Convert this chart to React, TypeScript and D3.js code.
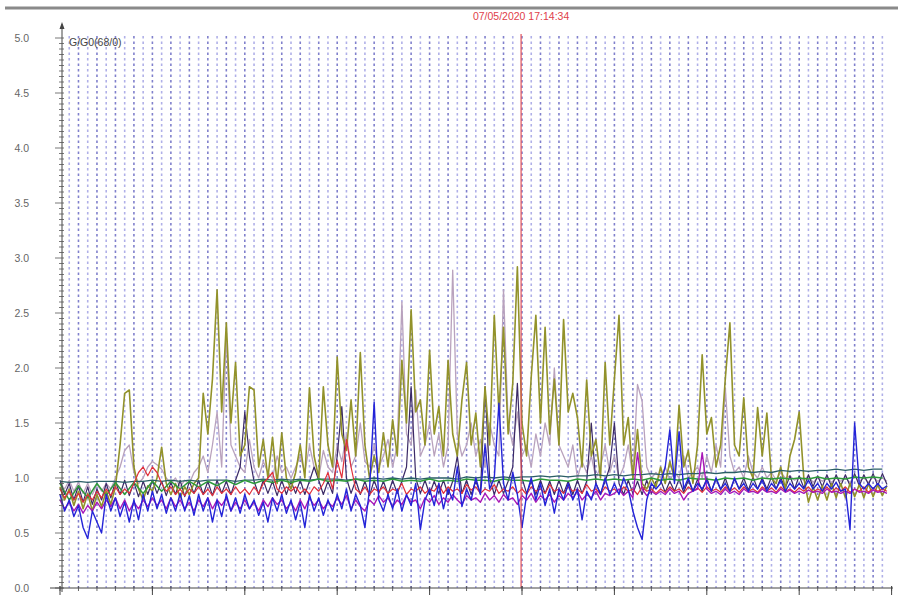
import React from "react";
import * as d3 from "d3";

// ---- data ----
const yTicks = [0, 0.5, 1, 1.5, 2, 2.5, 3, 3.5, 4, 4.5, 5];
const yLabels = ["0.0", "0.5", "1.0", "1.5", "2.0", "2.5", "3.0", "3.5", "4.0", "4.5", "5.0"];
const cursorT = 49.9;
const cursorLabel = "07/05/2020 17:14:34";
const seriesLabel = "G/G0(68/0)";

// half-step series (t = i * 0.5)
const olive = [
  0.92,0.8,0.9,0.75,0.88,0.72,0.86,0.7,0.85,0.74,
  0.88,0.76,0.92,1.3,1.77,1.8,1.1,0.9,0.8,0.93,
  0.88,1.0,1.28,0.95,0.85,0.95,0.82,0.92,0.85,0.95,
  1.0,1.77,1.4,1.9,2.71,1.6,2.41,1.5,2.05,1.2,
  1.3,1.83,1.8,1.1,1.35,1.0,1.37,0.95,1.41,1.0,
  0.9,1.05,1.3,1.0,1.82,1.2,1.0,1.83,1.3,1.1,
  2.1,1.4,1.25,1.71,1.2,2.14,1.3,1.0,1.2,1.05,
  1.41,1.1,1.53,1.2,2.07,1.5,2.53,1.6,1.71,1.3,
  2.16,1.4,1.65,1.2,2.07,1.4,1.2,1.71,2.05,1.3,
  1.59,1.1,1.83,1.3,2.48,1.6,2.37,1.4,1.86,2.92,
  1.5,1.2,1.92,2.48,1.5,2.37,1.4,1.9,1.3,2.44,
  1.6,1.77,1.55,1.1,1.89,1.2,1.35,1.0,2.05,1.3,
  1.9,2.48,1.3,1.55,1.0,1.44,0.95,0.9,1.0,0.92,
  1.1,0.95,1.15,1.0,1.66,1.1,1.25,0.95,1.3,2.12,
  1.4,1.55,1.1,1.3,1.9,2.41,1.3,1.2,1.73,1.1,
  1.0,1.64,1.2,1.59,1.0,0.95,1.1,0.9,1.2,1.35,
  1.6,1.0,0.78,0.92,0.8,0.93,0.8,0.95,0.82,0.95,
  0.82,0.95,0.83,0.94,0.82,0.95,0.83,0.94,0.84,0.93,
];
const lavender = [
  0.95,0.9,0.98,0.88,0.96,0.86,0.95,0.85,0.94,0.88,
  0.95,0.9,1.0,1.1,1.25,1.3,1.05,0.95,1.0,1.1,
  1.15,1.12,1.08,1.0,0.95,1.0,0.92,0.98,0.95,1.05,
  1.1,1.2,1.05,1.3,1.6,1.1,2.3,1.3,1.2,1.1,
  1.05,1.35,1.1,1.0,1.15,1.05,1.0,1.2,1.05,1.1,
  1.0,1.1,1.2,1.05,1.3,1.1,1.0,1.25,1.1,1.05,
  1.3,1.15,1.4,1.1,1.2,1.5,1.15,1.1,1.3,1.1,
  1.2,1.35,1.1,1.3,2.6,1.4,1.3,1.8,1.2,1.3,
  1.5,1.2,1.4,1.1,1.3,2.89,1.4,1.2,1.3,1.5,
  1.2,1.35,1.1,1.5,1.3,1.2,2.71,1.5,1.3,1.6,
  1.2,1.3,1.1,1.4,1.2,1.5,1.3,2.0,1.3,1.2,
  1.1,1.3,1.0,1.15,1.05,1.2,1.0,1.1,1.3,1.05,
  1.2,1.0,1.1,1.3,1.0,1.85,1.7,1.1,1.0,1.05,
  1.0,1.1,0.98,1.05,1.0,1.2,1.0,1.05,1.1,1.0,
  1.2,1.05,1.3,1.1,1.82,1.2,1.05,1.1,1.0,1.2,
  1.05,1.0,1.1,1.0,1.05,0.98,1.05,1.0,1.02,0.98,
  1.0,0.98,1.02,0.96,1.0,0.97,1.01,0.96,1.0,0.97,
  1.0,0.96,1.02,0.97,1.0,0.96,1.01,0.97,1.0,0.97,
];
const navy = [
  0.98,0.85,0.95,0.8,0.93,0.78,0.92,0.76,0.9,0.8,
  0.95,0.82,0.97,0.85,0.98,0.84,0.96,0.83,0.97,0.85,
  0.98,0.86,0.97,0.84,0.96,0.85,0.98,0.83,0.97,0.86,
  0.98,0.85,0.97,0.84,0.98,0.86,0.97,0.85,0.98,1.1,
  1.6,1.2,0.97,0.85,0.98,0.86,0.97,0.84,0.98,0.85,
  0.97,0.86,0.98,0.85,0.97,1.1,0.98,0.85,0.97,0.86,
  1.2,1.65,1.0,0.86,0.98,0.85,0.97,0.84,0.98,0.86,
  0.97,0.85,0.98,0.86,0.97,1.1,1.83,1.0,0.86,0.98,
  0.85,0.97,0.86,0.98,0.85,0.97,1.2,0.86,0.98,0.85,
  0.97,0.86,1.83,1.0,0.85,0.98,0.86,0.97,1.1,1.86,
  1.0,0.86,0.97,0.85,0.98,0.86,0.97,0.85,0.98,0.86,
  0.97,0.85,0.98,0.86,0.97,1.5,0.95,0.86,0.97,1.1,
  1.5,0.95,0.85,0.98,0.86,0.97,0.85,0.98,0.86,0.97,
  0.98,0.87,0.97,0.88,0.99,0.87,0.98,0.88,0.99,0.88,
  1.0,0.88,0.99,0.89,1.0,0.88,0.99,0.9,1.0,0.89,
  1.01,0.9,1.0,0.9,1.01,0.9,1.0,0.91,1.02,0.9,
  1.02,0.91,1.03,0.92,1.02,0.92,1.03,0.92,1.03,0.93,
  1.03,0.93,1.04,0.93,1.03,0.94,1.04,0.93,1.04,0.94,
];
const blue = [
  0.85,0.7,0.8,0.65,0.75,0.55,0.45,0.7,0.6,0.5,
  0.85,0.7,0.82,0.65,0.78,0.6,0.8,0.62,0.85,0.7,
  0.88,0.72,0.85,0.68,0.82,0.7,0.86,0.7,0.84,0.66,
  0.85,0.7,0.82,0.6,0.8,0.65,0.85,0.7,0.82,0.68,
  0.85,0.72,0.8,0.66,0.78,0.6,0.82,0.7,0.85,0.68,
  0.8,0.62,0.78,0.55,0.85,0.7,0.82,0.66,0.8,0.7,
  0.85,0.72,0.9,0.7,0.85,0.75,0.55,0.9,1.69,0.8,
  0.7,0.85,0.72,0.9,0.7,0.85,0.75,0.95,0.53,0.8,
  0.9,0.75,0.95,0.72,0.9,0.8,1.1,0.74,0.9,0.8,
  1.0,0.85,1.3,0.9,1.0,1.68,0.95,0.8,1.05,0.85,
  0.55,0.85,1.0,0.8,0.95,0.75,0.9,0.68,0.9,0.8,
  0.95,0.8,0.9,0.62,0.88,0.8,0.95,0.85,1.0,0.85,
  0.95,0.85,1.0,0.9,0.7,0.55,0.44,0.8,0.95,0.9,
  0.95,1.1,1.44,0.95,1.42,0.9,1.0,0.88,0.95,0.9,
  0.98,0.88,1.0,0.9,0.95,0.88,1.0,0.9,0.95,0.88,
  0.95,0.9,0.98,0.88,0.95,0.9,0.98,0.88,0.95,0.9,
  0.95,0.9,0.98,0.9,0.95,0.88,0.95,0.9,0.96,0.88,
  0.9,0.53,1.5,0.95,0.9,0.95,0.9,0.95,0.9,0.93,
];
const magenta = [
  0.8,0.72,0.78,0.7,0.76,0.68,0.75,0.7,0.78,0.72,
  0.8,0.74,0.82,0.72,0.8,0.7,0.78,0.72,0.8,0.74,
  0.82,0.75,0.8,0.72,0.82,0.74,0.8,0.72,0.78,0.7,
  0.8,0.74,0.82,0.72,0.8,0.75,0.82,0.7,0.78,0.72,
  0.8,0.72,0.78,0.7,0.8,0.74,0.82,0.76,0.8,0.72,
  0.78,0.7,0.8,0.72,0.82,0.75,0.8,0.72,0.78,0.74,
  0.82,0.76,0.84,0.72,0.8,0.74,0.7,0.8,0.76,0.84,
  0.78,0.82,0.74,0.8,0.76,0.84,0.78,0.8,0.72,0.82,
  0.78,0.84,0.76,0.82,0.78,0.85,0.8,0.76,0.84,0.8,
  0.82,0.78,0.86,0.8,0.84,0.78,0.85,0.8,0.82,0.76,
  0.84,0.8,0.86,0.78,0.84,0.8,0.85,0.78,0.84,0.8,
  0.86,0.82,0.88,0.8,0.85,0.82,0.88,0.8,0.86,0.84,
  0.86,0.9,0.84,0.88,0.82,1.23,0.9,0.84,0.88,0.85,
  0.88,0.85,0.9,0.86,0.88,0.8,0.86,0.88,0.9,1.23,
  0.9,0.86,0.88,0.85,0.9,0.86,0.88,0.85,0.9,0.87,
  0.88,0.86,0.9,0.87,0.88,0.86,0.9,0.87,0.89,0.86,
  0.88,0.86,0.89,0.87,0.88,0.86,0.9,0.87,0.88,0.86,
  0.88,0.86,0.9,0.87,0.88,0.86,0.89,0.87,0.88,0.86,
];
const red = [
  0.9,0.82,0.88,0.8,0.86,0.78,0.85,0.8,0.88,0.82,
  0.9,0.84,0.92,0.85,0.9,0.86,0.95,1.05,1.1,1.02,
  1.1,1.05,0.95,0.88,0.92,0.85,0.9,0.84,0.9,0.86,
  0.92,0.85,0.9,0.84,0.92,0.86,0.9,0.85,0.92,0.86,
  0.9,0.85,0.92,0.86,0.95,1.0,1.05,0.9,0.86,0.92,
  0.88,0.92,0.86,0.9,0.85,0.92,0.88,0.95,1.05,0.9,
  1.16,1.0,1.35,1.1,0.9,0.86,0.92,0.85,0.9,0.88,
  0.92,0.86,0.9,0.88,0.95,0.85,0.9,0.88,0.92,0.86,
  0.9,0.88,0.94,0.86,0.92,0.88,0.9,0.86,0.94,0.89,
  0.92,0.86,0.9,0.88,0.94,0.86,0.9,0.88,0.92,0.86,
  0.9,0.85,0.92,0.88,0.9,0.86,0.94,0.88,0.9,0.86,
  0.92,0.88,0.9,0.86,0.94,0.88,0.9,0.85,0.92,0.88,
  0.9,0.86,0.92,0.88,0.9,0.85,0.92,0.88,0.9,0.86,
  0.9,0.87,0.92,0.88,0.9,0.86,0.92,0.88,0.91,0.87,
  0.92,0.88,0.9,0.87,0.92,0.88,0.91,0.87,0.92,0.88,
  0.9,0.87,0.92,0.88,0.91,0.87,0.92,0.88,0.9,0.87,
  0.91,0.88,0.92,0.87,0.9,0.88,0.92,0.87,0.91,0.88,
  0.92,0.87,0.9,0.88,0.92,0.87,0.91,0.88,0.9,0.88,
];
// whole-step series (t = i)
const green = [
  0.95,0.8,0.93,0.82,0.95,0.84,0.96,0.85,0.96,0.86,
  0.97,0.88,0.97,0.9,0.97,0.92,0.97,0.93,0.98,0.94,
  0.98,0.95,0.98,0.96,0.98,0.96,0.98,0.97,0.99,0.97,
  0.98,0.97,0.99,0.97,0.98,0.97,0.99,0.97,0.98,0.97,
  0.99,0.97,0.98,0.97,0.99,0.98,0.98,0.97,0.99,0.98,
  0.98,0.97,0.99,0.98,0.98,0.97,0.99,0.98,0.99,0.98,
  0.99,0.98,0.99,0.98,1.0,0.98,0.99,0.98,1.0,0.99,
  0.99,0.98,1.0,0.99,1.0,0.98,1.0,0.99,1.0,0.99,
  1.0,0.99,1.01,0.99,1.0,0.99,1.01,1.0,1.01,1.0,
];
const teal = [
  0.97,0.96,0.97,0.96,0.97,0.97,0.97,0.96,0.97,0.97,
  0.98,0.97,0.98,0.97,0.98,0.97,0.98,0.98,0.98,0.97,
  0.98,0.98,0.99,0.98,0.99,0.98,0.99,0.98,0.99,0.99,
  0.99,0.98,0.99,0.99,1.0,0.99,1.0,0.99,1.0,0.99,
  1.0,1.0,1.0,0.99,1.01,1.0,1.01,1.0,1.01,1.0,
  1.01,1.01,1.02,1.01,1.02,1.01,1.02,1.02,1.03,1.02,
  1.03,1.02,1.03,1.03,1.04,1.03,1.04,1.03,1.04,1.04,
  1.05,1.04,1.05,1.05,1.06,1.05,1.06,1.05,1.07,1.06,
  1.07,1.06,1.07,1.07,1.08,1.07,1.08,1.07,1.08,1.08,
];

const W = 898;
const H = 597;

export default function App() {
  const x = d3.scaleLinear().domain([0, 90]).range([60, 891.6]);
  const y = d3.scaleLinear().domain([0, 5]).range([588, 38]);

  const half = (arr: number[]) => arr.map((v, i) => [i * 0.5, v] as [number, number]);
  const whole = (arr: number[]) => arr.map((v, i) => [i, v] as [number, number]);
  const line = d3
    .line<[number, number]>()
    .x((d) => x(d[0]))
    .y((d) => y(d[1]));

  const series: { data: [number, number][]; color: string; w: number }[] = [
    { data: half(lavender), color: "#b9a2bd", w: 1.3 },
    { data: half(navy), color: "#3b2a66", w: 1.2 },
    { data: half(olive), color: "#92922a", w: 1.6 },
    { data: whole(teal), color: "#2a5e66", w: 1.3 },
    { data: whole(green), color: "#2e9a3c", w: 1.5 },
    { data: half(red), color: "#e0303c", w: 1.2 },
    { data: half(magenta), color: "#a818b8", w: 1.4 },
    { data: half(blue), color: "#2424d8", w: 1.4 },
  ];

  const gridT = d3.range(1, 90);
  const xMinor = d3.range(0, 91, 2);
  const xMajor = d3.range(0, 91, 10);
  const yMinor = d3.range(0, 101).map((k) => k * 0.05);

  return (
    <svg
      width={W}
      height={H}
      style={{ position: "absolute", left: 0, top: 0, background: "#fff" }}
      fontFamily="'Liberation Sans', Arial, sans-serif"
    >
      <rect x={0} y={0} width={W} height={H} fill="#fff" />
      {/* top bar */}
      <line x1={5} x2={898} y1={8} y2={8} stroke="#8a8a8a" strokeWidth={3} />

      {/* dotted grid */}
      {gridT.map((t) => (
        <line
          key={"g" + t}
          x1={x(t)}
          x2={x(t)}
          y1={y(5) - 2}
          y2={y(0)}
          stroke={t % 2 === 0 ? "#8080cc" : "#b0b0e8"}
          strokeWidth={1.6}
          strokeDasharray="2.5 3"
        />
      ))}

      {/* series */}
      {series.map((s, i) => (
        <path key={"s" + i} d={line(s.data) || ""} fill="none" stroke={s.color} strokeWidth={s.w} strokeLinejoin="round" />
      ))}

      {/* cursor */}
      <line x1={x(cursorT)} x2={x(cursorT)} y1={34} y2={y(0)} stroke="#e0505a" strokeWidth={1.2} />
      <text x={x(cursorT)} y={20} textAnchor="middle" fontSize={10.5} fill="#e0404a">
        {cursorLabel}
      </text>

      {/* y axis */}
      <line x1={62} x2={62} y1={24} y2={592} stroke="#444" strokeWidth={1} />
      <path d="M62,22 L59.5,29 L64.5,29 Z" fill="#444" />
      {yMinor.map((v, k) => (
        <line key={"ym" + k} x1={k % 10 === 0 ? 55 : 59} x2={64} y1={y(v)} y2={y(v)} stroke="#555" strokeWidth={0.8} />
      ))}
      {yTicks.map((v, k) => (
        <text key={"yl" + k} x={29} y={y(v) + 4} textAnchor="end" fontSize={10.5} fill="#666">
          {yLabels[k]}
        </text>
      ))}

      {/* x axis */}
      <line x1={50} x2={893} y1={y(0)} y2={y(0)} stroke="#444" strokeWidth={1} />
      {xMinor.map((t) => (
        <line key={"xm" + t} x1={x(t)} x2={x(t)} y1={y(0) - 2} y2={y(0) + 3} stroke="#555" strokeWidth={0.9} />
      ))}
      {xMajor.map((t) => (
        <line key={"xM" + t} x1={x(t)} x2={x(t)} y1={y(0) - 2} y2={y(0) + 7} stroke="#444" strokeWidth={1} />
      ))}

      {/* series label */}
      <text x={69} y={46} fontSize={10.5} fill="#444">
        {seriesLabel}
      </text>
    </svg>
  );
}
